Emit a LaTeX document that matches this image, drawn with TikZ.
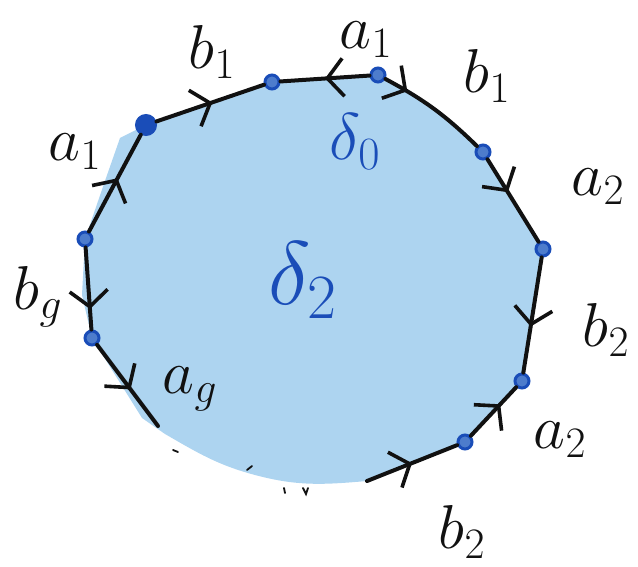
\RequirePackage{fix-cm}
\documentclass[tikz,border=0pt]{standalone}
\usetikzlibrary{arrows.meta,decorations.markings,backgrounds}
\definecolor{polyInk}{HTML}{111111}
\definecolor{polyFill}{HTML}{ADD4F0}
\definecolor{polyDot}{HTML}{1A4DB8}
\tikzset{
  poly edge/.style={draw=polyInk, line width=4pt, line cap=round},
  poly dot/.style={circle, draw=polyDot, line width=3pt,
    fill=polyDot!65!polyFill, minimum size=14pt, inner sep=0pt},
  poly corner/.style={poly dot, fill=polyDot, minimum size=19pt},
  poly label/.style={font=\fontsize{62}{66}\selectfont, text=polyInk, inner sep=0pt},
  poly name/.style={font=\fontsize{66}{72}\selectfont, text=polyDot, inner sep=0pt},
  mid arrow/.style={postaction={decorate}, decoration={markings,
    mark=at position #1 with {\arrow{Straight Barb[length=16pt,width=38pt,line width=3.6pt]}}}},
  poly speck/.style={draw=polyInk, line width=1.8pt, line cap=round}
}

\begin{document}
\begin{tikzpicture}[x=1pt, y=-1pt]
  \useasboundingbox (0,0) rectangle (638,567);
  % corners of the polygon
  \node[poly corner] (v1) at (146,125) {};
  \node[poly dot] (v2) at (272,82) {};
  \node[poly dot] (v3) at (378,75) {};
  \node[poly dot] (v4) at (483,152) {};
  \node[poly dot] (v5) at (543,249) {};
  \node[poly dot] (v6) at (522,381) {};
  \node[poly dot] (v7) at (465,442) {};
  \node[poly dot] (v8) at (92,338) {};
  \node[poly dot] (v9) at (85,239) {};
  \coordinate (gapL) at (158,426);
  \coordinate (gapR) at (367,481);
  % shaded face
  \begin{scope}[on background layer]
    \fill[polyFill] (v1.center) -- (v2.center) -- (v3.center) to[bend left=8] (v4.center)
      -- (v5.center) -- (v6.center) -- (v7.center) -- (gapR)
      to[out=185, in=-15] (255,475) to[out=165, in=-30] (165,434) -- (142,418)
      -- (v8.center) -- (82,295) -- (v9.center) -- (106,178) -- (120,138) -- cycle;
  \end{scope}
  % sides with their orientation
  \draw[poly edge, mid arrow=0.55] (v9) -- (v1);
  \draw[poly edge, mid arrow=0.52] (v1) -- (v2);
  \draw[poly edge, mid arrow=0.5] (v3) -- (v2);
  \draw[poly edge, mid arrow=0.22] (v3) to[bend left=8] (v4);
  \draw[poly edge, mid arrow=0.4] (v4) -- (v5);
  \draw[poly edge, mid arrow=0.6] (v5) -- (v6);
  \draw[poly edge, mid arrow=0.65] (v7) -- (v6);
  \draw[poly edge, mid arrow=0.5] (gapR) -- (v7);
  \draw[poly edge, mid arrow=0.75] (v9) -- (v8);
  \draw[poly edge, mid arrow=0.55] (v8) -- (gapL);
  % side labels
  \node[poly label] (lb1) at (212,52) {$b_1$};
  \node[poly label] (la1) at (366,40) {$a_1$};
  \node[poly label] (lb1r) at (487,76) {$b_1$};
  \node[poly label] (la1l) at (75,152) {$a_1$};
  \node[poly label] (la2) at (598,187) {$a_2$};
  \node[poly label] (lb2) at (606,330) {$b_2$};
  \node[poly label] (la2l) at (560,440) {$a_2$};
  \node[poly label] (lb2b) at (462,532) {$b_2$};
  \node[poly label] (lbg) at (38,297) {$b_g$};
  \node[poly label] (lag) at (190,389) {$a_g$};
  % face names
  \node[poly name] (d0) at (355,142) {$\delta_0$};
  \node[poly name, font=\fontsize{90}{96}\selectfont] (d2) at (303,280) {$\delta_2$};
  % specks below the gap
  \draw[poly speck] (173,450) -- (178,452);
  \draw[poly speck] (247,470) -- (252,466);
  \draw[poly speck] (284,488) -- (285,493);
  \draw[poly speck] (303,488) -- (306,494) -- (308,488);
\end{tikzpicture}
\end{document}
